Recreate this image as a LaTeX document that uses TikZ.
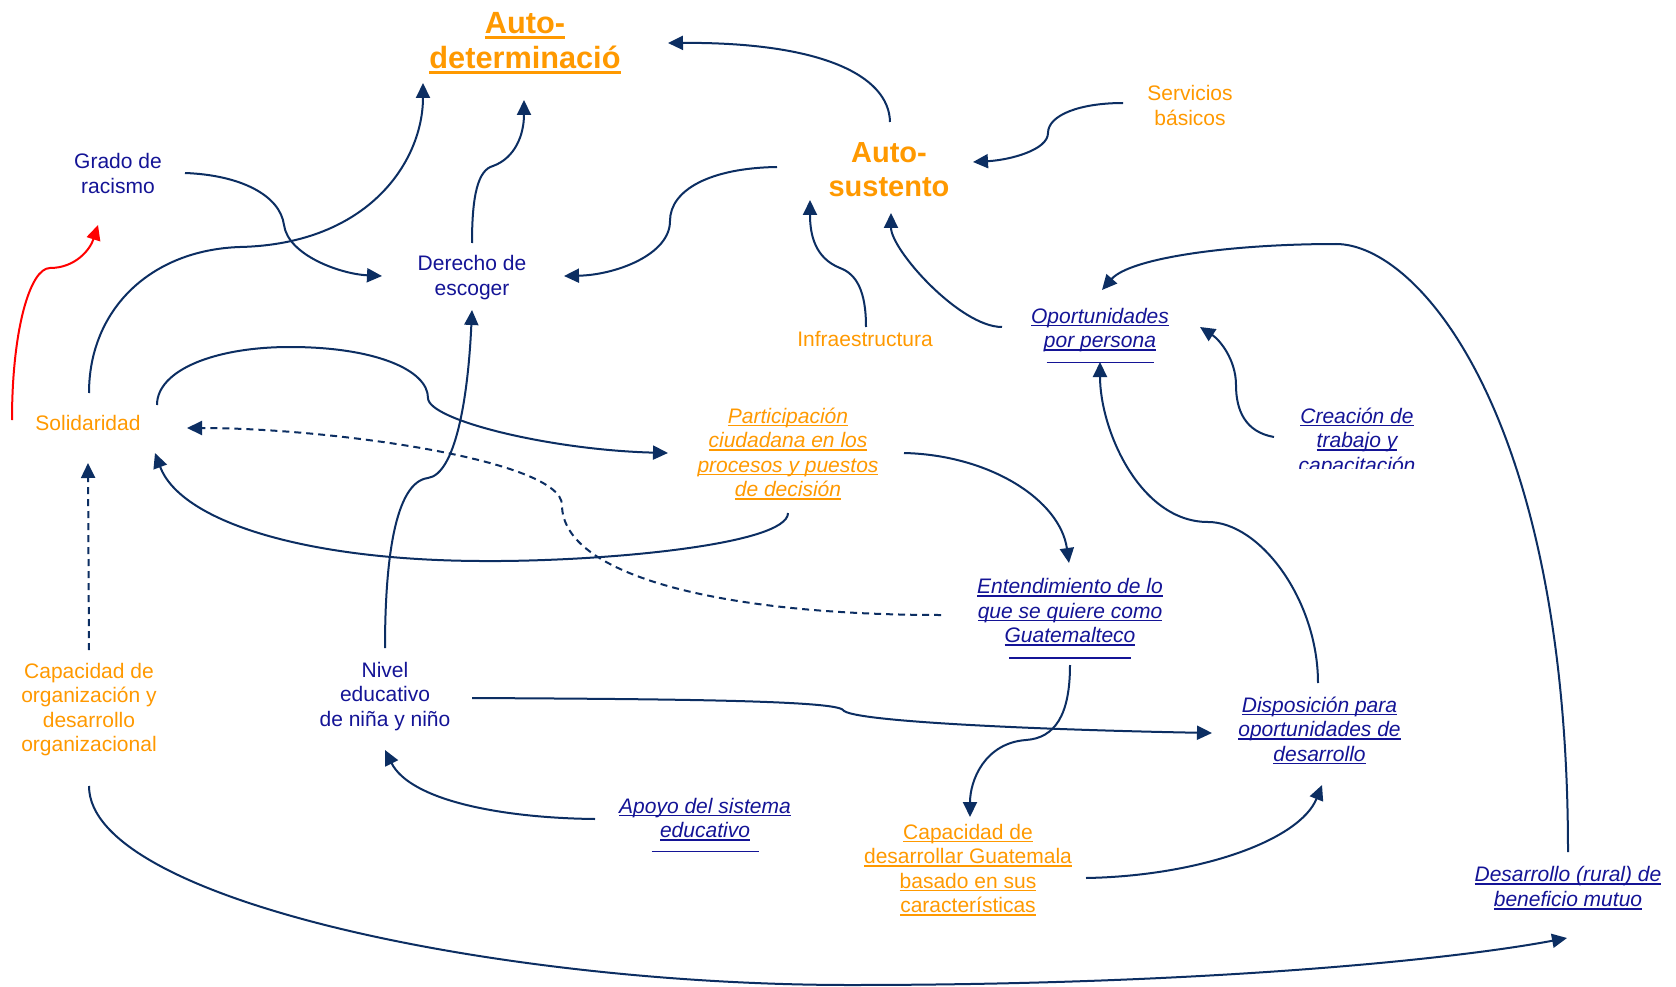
\documentclass[tikz,border=0pt]{standalone}
\usepackage{fontspec}
\setmainfont{Liberation Sans}
\usetikzlibrary{arrows.meta}
\definecolor{tblue}{RGB}{20,20,150}
\definecolor{torange}{RGB}{255,153,0}
\definecolor{navy}{RGB}{12,46,98}
\definecolor{redline}{RGB}{255,0,0}
\newcommand{\uln}[1]{\setbox0=\hbox{#1}\rlap{\rule[-3.2pt]{\wd0}{1.7pt}}\box0}
\newcommand{\ulb}[1]{\setbox0=\hbox{#1}\rlap{\rule[-5pt]{\wd0}{3pt}}\box0}
\newcommand{\blankul}[1]{\rule[-3.2pt]{#1pt}{1.7pt}}
\tikzset{
  lbl/.style={inner sep=0pt, anchor=base, align=center, font=\fontsize{21}{24.6}\selectfont},
  lblit/.style={lbl, font=\fontsize{21}{24.6}\selectfont\itshape},
  bluetxt/.style={text=tblue},
  orangetxt/.style={text=torange},
  conn/.style={draw=navy, line width=2pt, -{Triangle[length=15pt,width=14pt]}},
  dashconn/.style={conn, dash pattern=on 7pt off 5pt},
  redconn/.style={draw=redline, line width=2pt, -{Triangle[length=15pt,width=14pt]}},
}
\begin{document}
\begin{tikzpicture}[x=1pt,y=-1pt]
\fill[white] (0,0) rectangle (1676,987);
\useasboundingbox (0,0) rectangle (1676,987);

% nodes (placed at the baseline of their last line)
\node[lbl,orangetxt,font=\fontsize{30.7}{35}\selectfont\bfseries] (adet) at (525,69) {\ulb{Auto-}\\\ulb{determinació}};
\node[lbl,bluetxt] (grado) at (118,193.6) {Grado de\\racismo};
\node[lbl,bluetxt] (der) at (472,295.1) {Derecho de\\escoger};
\node[lbl,orangetxt,font=\fontsize{29}{34}\selectfont\bfseries] (auts) at (889,197) {Auto-\\sustento};
\node[lbl,orangetxt] (serv) at (1190,125.1) {Servicios\\básicos};
\node[lbl,orangetxt] (infra) at (865,346.5) {Infraestructura};
\node[lblit,bluetxt] (oport) at (1100,360) {\uln{Oportunidades}\\\uln{por persona}\\[-12.2pt]\blankul{107}};
\node[lblit,orangetxt] (part) at (788,496.8) {\uln{Participación}\\\uln{ciudadana en los}\\\uln{procesos y puestos}\\\uln{de decisión}};
\node[lbl,orangetxt] (sol) at (88,430) {Solidaridad};
\node[lblit,bluetxt] (ent) at (1070,655.6) {\uln{Entendimiento de lo}\\\uln{que se quiere como}\\\uln{Guatemalteco}\\[-11.7pt]\blankul{122}};
\node[lbl,orangetxt] (corg) at (89,751.8) {Capacidad de\\organización y\\desarrollo\\organizacional};
\node[lbl,bluetxt] (niv) at (385,726.2) {Nivel\\educativo\\de niña y niño};
\node[lblit,bluetxt] (disp) at (1319.5,761.2) {\uln{Disposición para}\\\uln{oportunidades de}\\\uln{desarrollo}};
\node[lblit,bluetxt] (apoyo) at (705,849) {\uln{Apoyo del sistema}\\\uln{educativo}\\[-13.2pt]\blankul{107}};
\node[lbl,orangetxt] (cdg) at (968,912.8) {\uln{Capacidad de}\\\uln{desarrollar Guatemala}\\\uln{basado en sus}\\\uln{características}};
\node[lblit,bluetxt] (desr) at (1568,906.5) {\uln{Desarrollo (rural) de}\\\uln{beneficio mutuo}};
\begin{scope}
\clip (1250,380) rectangle (1470,468);
\node[lblit,bluetxt] (crea) at (1357,472.2) {\uln{Creación de}\\\uln{trabajo y}\\\uln{capacitación}};
\end{scope}
\coordinate (redtip) at (98,225);

% connectors
\draw[conn] ([shift={(1,-75)}]auts.base) .. controls (889,75) and (820,42) .. ([shift={(143,-26)}]adet.base);
\draw[conn] ([shift={(67,-20.6)}]grado.base) .. controls (240,175) and (280,195) .. (284,225) .. controls (288,255) and (340,274) .. ([shift={(-90,-19.1)}]der.base);
\draw[conn] ([shift={(1,-37)}]sol.base) .. controls (89,310) and (150,250) .. (240,247) .. controls (370,244) and (423,160) .. ([shift={(-102,14)}]adet.base);
\draw[conn] ([shift={(0,-52.1)}]der.base) .. controls (472,195) and (478,170) .. (493,166) .. controls (515,158) and (524,135) .. ([shift={(-1,31)}]adet.base);
\draw[conn] ([shift={(-112,-30)}]auts.base) .. controls (710,168) and (670,190) .. (670,221) .. controls (670,255) and (615,275) .. ([shift={(92,-19.1)}]der.base);
\draw[conn] ([shift={(-67,-22.1)}]serv.base) .. controls (1080,103) and (1048,115) .. (1048,133) .. controls (1048,150) and (1010,160) .. ([shift={(84,-35)}]auts.base);
\draw[conn] ([shift={(1,-19.5)}]infra.base) .. controls (866,290) and (856,274) .. (840,268) .. controls (815,258) and (810,235) .. ([shift={(-79,3)}]auts.base);
\draw[conn] ([shift={(-98,-33)}]oport.base) .. controls (960,327) and (891,250) .. ([shift={(2,16)}]auts.base);
\draw[conn] ([shift={(0,-54.5)}]desr.base) .. controls (1568,420) and (1420,244) .. (1336,244) .. controls (1230,244) and (1130,258) .. ([shift={(2,-70)}]oport.base);
\draw[conn] ([shift={(-83,-35.2)}]crea.base) .. controls (1245,432) and (1236,410) .. (1236,385) .. controls (1236,360) and (1220,340) .. ([shift={(100,-33)}]oport.base);
\draw[conn] ([shift={(69,-25)}]sol.base) .. controls (157,370) and (215,347) .. (290,347) .. controls (375,347) and (428,370) .. (428,398) .. controls (428,420) and (550,450) .. ([shift={(-120,-43.8)}]part.base);
\draw[conn] ([shift={(0,16.2)}]part.base) .. controls (788,545) and (600,562) .. (480,561) .. controls (300,560) and (180,520) .. ([shift={(67,23)}]sol.base);
\draw[dashconn] ([shift={(-129,-40.6)}]ent.base) .. controls (720,615) and (562,575) .. (562,505) .. controls (562,460) and (330,428) .. ([shift={(99,-2)}]sol.base);
\draw[conn] ([shift={(0,-78.2)}]niv.base) .. controls (385,560) and (395,482) .. (428,478) .. controls (455,474) and (468,400) .. ([shift={(0,14.9)}]der.base);
\draw[conn] ([shift={(116,-43.8)}]part.base) .. controls (990,455) and (1060,500) .. ([shift={(-1,-92.6)}]ent.base);
\draw[conn] ([shift={(0,9.4)}]ent.base) .. controls (1070,715) and (1055,738) .. (1026,740) .. controls (985,743) and (970,780) .. ([shift={(2,-95.8)}]cdg.base);
\draw[conn] ([shift={(87,-28.2)}]niv.base) .. controls (650,699) and (835,700) .. (843,710) .. controls (850,722) and (1050,730) .. ([shift={(-107.5,-28.2)}]disp.base);
\draw[conn] ([shift={(118,-34.8)}]cdg.base) .. controls (1200,876) and (1300,840) .. ([shift={(2.5,23.8)}]disp.base);
\draw[conn] ([shift={(-1.5,-78.2)}]disp.base) .. controls (1318,600) and (1260,522) .. (1208,522) .. controls (1140,522) and (1100,430) .. ([shift={(0,2)}]oport.base);
\draw[conn] ([shift={(-110,-30)}]apoyo.base) .. controls (500,818) and (410,800) .. ([shift={(0,23.8)}]niv.base);
\draw[dashconn] ([shift={(0,-101.8)}]corg.base) -- ([shift={(0,33)}]sol.base);
\draw[conn] ([shift={(0,34.2)}]corg.base) .. controls (89,900) and (500,985) .. (850,985) .. controls (1200,985) and (1450,960) .. ([shift={(-1,31.5)}]desr.base);
\draw[redconn] ([shift={(-76,-10)}]sol.base) .. controls (12,330) and (30,268) .. (50,268) .. controls (75,268) and (90,250) .. (redtip);
\end{tikzpicture}
\end{document}
